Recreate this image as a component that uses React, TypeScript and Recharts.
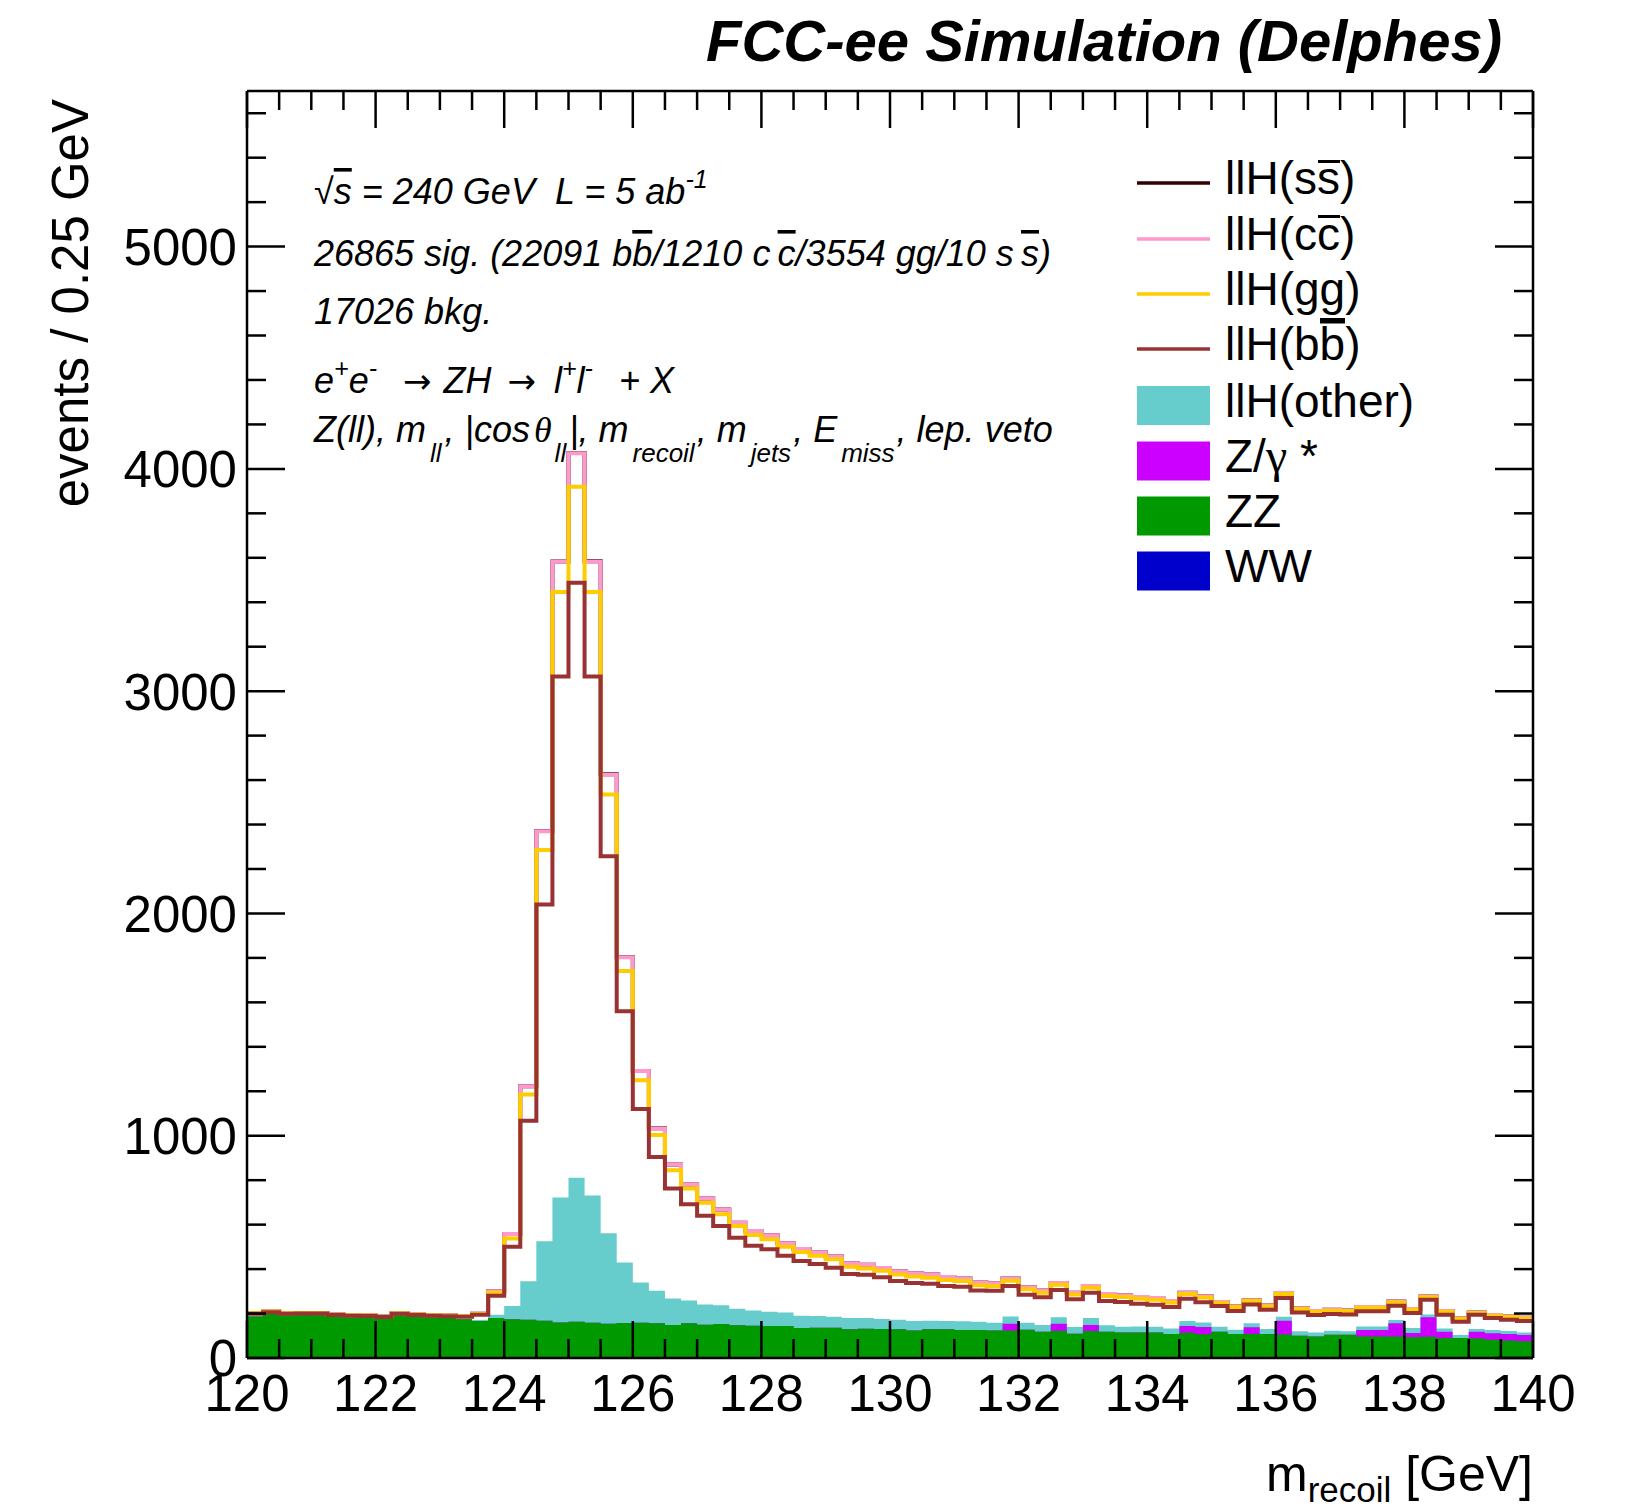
import React from "react";
import { ComposedChart, Area, Line, XAxis, YAxis } from "recharts";

const FONT = "'Liberation Sans', Arial, Helvetica, sans-serif";
const SERIF = "'Liberation Serif', 'DejaVu Serif', serif";

// low edge of every 0.25 GeV bin, plus the closing edge at 140
const binEdges = [
  120, 120.25, 120.5, 120.75, 121, 121.25, 121.5, 121.75, 122, 122.25,
  122.5, 122.75, 123, 123.25, 123.5, 123.75, 124, 124.25, 124.5, 124.75,
  125, 125.25, 125.5, 125.75, 126, 126.25, 126.5, 126.75, 127, 127.25,
  127.5, 127.75, 128, 128.25, 128.5, 128.75, 129, 129.25, 129.5, 129.75,
  130, 130.25, 130.5, 130.75, 131, 131.25, 131.5, 131.75, 132, 132.25,
  132.5, 132.75, 133, 133.25, 133.5, 133.75, 134, 134.25, 134.5, 134.75,
  135, 135.25, 135.5, 135.75, 136, 136.25, 136.5, 136.75, 137, 137.25,
  137.5, 137.75, 138, 138.25, 138.5, 138.75, 139, 139.25, 139.5, 139.75,
  140,
];

// events per bin, each process on its own (stacked below in this order)
const ww = [
  0, 0, 0, 0, 0, 0, 0, 0, 0, 0, 0, 0, 0, 0, 0, 0, 0, 0, 0, 0,
  0, 0, 0, 0, 0, 0, 0, 0, 0, 0, 0, 0, 0, 0, 0, 0, 0, 0, 0, 0,
  0, 0, 0, 0, 0, 0, 0, 0, 0, 0, 0, 0, 0, 0, 0, 0, 0, 0, 0, 0,
  0, 0, 0, 0, 0, 0, 0, 0, 0, 0, 0, 0, 0, 0, 0, 0, 0, 0, 0, 0,
];
const zz = [
  187, 198, 193, 193, 192, 187, 183, 183, 175, 192,
  187, 183, 180, 174, 166, 180, 174, 172, 168, 160,
  163, 159, 154, 157, 159, 156, 148, 156, 150, 153,
  147, 145, 144, 144, 135, 136, 136, 129, 132, 130,
  129, 124, 129, 129, 126, 126, 124, 124, 127, 118,
  123, 109, 121, 118, 115, 115, 115, 108, 114, 107,
  118, 108, 108, 108, 106, 100, 97, 105, 105, 97,
  97, 97, 93, 96, 90, 90, 88, 82, 79, 75,
];
const zgamma = [
  0, 0, 0, 0, 0, 0, 0, 0, 0, 0,
  0, 0, 0, 0, 0, 0, 0, 0, 0, 0,
  0, 0, 0, 0, 0, 0, 0, 0, 0, 0,
  0, 0, 0, 0, 0, 0, 0, 0, 0, 0,
  0, 0, 0, 0, 0, 0, 0, 30, 0, 0,
  31, 0, 27, 0, 0, 0, 0, 0, 30, 33,
  0, 0, 30, 0, 62, 0, 0, 0, 0, 29,
  29, 59, 20, 87, 28, 0, 30, 29, 29, 28,
];
const llhOther = [
  2, 2, 1, 2, 2, 1, 2, 1, 2, 2,
  1, 2, 2, 3, 5, 15, 60, 173, 357, 562,
  648, 572, 407, 273, 181, 147, 120, 103, 91, 84,
  75, 69, 64, 61, 55, 53, 50, 51, 48, 46,
  43, 42, 39, 37, 39, 37, 35, 33, 32, 30,
  29, 30, 32, 29, 26, 27, 26, 25, 22, 20,
  23, 19, 18, 22, 18, 20, 18, 18, 15, 16,
  16, 15, 22, 13, 15, 13, 12, 15, 13, 12,
];
const llhBB = [
  10, 6, 5, 5, 6, 5, 5, 5, 7, 5,
  6, 5, 6, 9, 24, 85, 266, 722, 1515, 2344,
  2677, 2335, 1696, 1130, 780, 601, 495, 433, 399, 357,
  319, 291, 281, 255, 246, 234, 220, 198, 195, 187,
  174, 171, 166, 158, 156, 141, 144, 137, 126, 125,
  123, 125, 114, 109, 111, 102, 99, 96, 101, 91,
  93, 84, 85, 87, 84, 85, 78, 75, 76, 68,
  68, 64, 67, 66, 62, 60, 65, 54, 51, 51,
];
const llhGG = [
  3, 3, 2, 2, 2, 2, 2, 2, 2, 2,
  2, 2, 2, 2, 3, 13, 38, 118, 245, 380,
  432, 380, 278, 181, 129, 99, 82, 71, 58, 53,
  53, 48, 45, 41, 41, 37, 38, 33, 28, 30,
  30, 30, 27, 27, 25, 23, 21, 24, 24, 21,
  24, 22, 22, 23, 22, 23, 22, 21, 21, 21,
  13, 18, 15, 15, 18, 15, 15, 15, 15, 16,
  16, 15, 15, 11, 13, 12, 7, 10, 12, 12,
];
const llhCC = [
  1, 1, 1, 1, 1, 1, 1, 1, 1, 1,
  1, 1, 1, 1, 1, 7, 20, 37, 85, 136,
  150, 136, 89, 62, 42, 30, 26, 18, 20, 21,
  15, 18, 18, 15, 13, 15, 13, 15, 17, 12,
  14, 14, 15, 13, 12, 13, 12, 10, 9, 10,
  7, 8, 8, 9, 8, 7, 8, 6, 6, 6,
  5, 4, 4, 4, 4, 4, 4, 4, 4, 3,
  3, 4, 3, 4, 3, 3, 3, 3, 3, 3,
];
const llhSS = [
  0, 0, 0, 0, 0, 0, 0, 0, 0, 0,
  0, 0, 0, 0, 0, 0, 0, 0.2, 0.5, 1.2,
  1.9, 2.2, 1.8, 1.1, 0.6, 0.3, 0, 0, 0, 0,
  0, 0, 0, 0, 0, 0, 0, 0, 0, 0,
  0, 0, 0, 0, 0, 0, 0, 0, 0, 0,
  0, 0, 0, 0, 0, 0, 0, 0, 0, 0,
  0, 0, 0, 0, 0, 0, 0, 0, 0, 0,
  0, 0, 0, 0, 0, 0, 0, 0, 0, 0,
];

const xTicks = [
  120, 120.5, 121, 121.5, 122, 122.5, 123, 123.5, 124, 124.5, 125, 125.5,
  126, 126.5, 127, 127.5, 128, 128.5, 129, 129.5, 130, 130.5, 131, 131.5,
  132, 132.5, 133, 133.5, 134, 134.5, 135, 135.5, 136, 136.5, 137, 137.5,
  138, 138.5, 139, 139.5, 140,
];
const xLabels = [120, 122, 124, 126, 128, 130, 132, 134, 136, 138, 140];
const yTicks = [
  0, 200, 400, 600, 800, 1000, 1200, 1400, 1600, 1800, 2000, 2200, 2400,
  2600, 2800, 3000, 3200, 3400, 3600, 3800, 4000, 4200, 4400, 4600, 4800,
  5000, 5200, 5400, 5600,
];
const yLabels = [0, 1000, 2000, 3000, 4000, 5000];

// stacked totals, one row per bin edge (last edge repeats the last bin)
const rows = binEdges.map((x, i) => {
  const k = Math.min(i, ww.length - 1);
  const w = ww[k];
  const z = w + zz[k];
  const zg = z + zgamma[k];
  const oth = zg + llhOther[k];
  const bb = oth + llhBB[k];
  const gg = bb + llhGG[k];
  const cc = gg + llhCC[k];
  const ss = cc + llhSS[k];
  return { x, ww: w, zz: z, zg, oth, bb, gg, cc, ss };
});

const AX = { stroke: "#000", strokeWidth: 2.5 };
const LABEL_SIZE = 51;

function BottomTick(p: any) {
  const v = p.payload.value;
  const major = xLabels.includes(v);
  return (
    <g>
      <line x1={p.x} x2={p.x} y1={p.y} y2={p.y - (major ? 37 : 19)} {...AX} />
      {major && (
        <text x={p.x} y={p.y + 53} textAnchor="middle" fontFamily={FONT} fontSize={LABEL_SIZE} fill="#000">
          {v}
        </text>
      )}
    </g>
  );
}

function TopTick(p: any) {
  const major = xLabels.includes(p.payload.value);
  return <line x1={p.x} x2={p.x} y1={p.y} y2={p.y + (major ? 37 : 19)} {...AX} />;
}

function LeftTick(p: any) {
  const v = p.payload.value;
  const major = yLabels.includes(v);
  return (
    <g>
      <line x1={p.x} x2={p.x + (major ? 38 : 19)} y1={p.y} y2={p.y} {...AX} />
      {major && (
        <text x={p.x - 10} y={p.y} dy="0.36em" textAnchor="end" fontFamily={FONT} fontSize={LABEL_SIZE} fill="#000">
          {v}
        </text>
      )}
    </g>
  );
}

function RightTick(p: any) {
  const major = yLabels.includes(p.payload.value);
  return <line x1={p.x} x2={p.x - (major ? 38 : 19)} y1={p.y} y2={p.y} {...AX} />;
}

const legendLines = [
  { label: "ss", color: "#330000", y: 183 },
  { label: "cc", color: "#ff99cc", y: 239 },
  { label: "gg", color: "#ffcc00", y: 294 },
  { label: "bb", color: "#993333", y: 349 },
];
const legendBoxes = [
  { label: "llH(other)", color: "#66cccc", y: 405.5 },
  { label: "Z/γ *", color: "#cc00ff", y: 461 },
  { label: "ZZ", color: "#009900", y: 516 },
  { label: "WW", color: "#0000cc", y: 571 },
];

function Overlay() {
  const it = { fontFamily: FONT, fontStyle: "italic" as const, fontSize: 36, fill: "#000" };
  const sub = 26;
  const sup = 25;
  const arrow = { fontFamily: "'DejaVu Sans', sans-serif", fontStyle: "normal" as const, fontSize: 34 };
  return (
    <svg
      width={1639}
      height={1508}
      style={{ position: "absolute", left: 0, top: 0, pointerEvents: "none" }}
    >
      <text x={1502} y={61} textAnchor="end" fontFamily={FONT} fontWeight="bold" fontStyle="italic" fontSize={58}>
        FCC-ee Simulation (Delphes)
      </text>

      <text
        x={88}
        y={99}
        transform="rotate(-90 88 99)"
        textAnchor="end"
        fontFamily={FONT}
        fontSize={51}
      >
        events / 0.25 GeV
      </text>

      <text x={1533} y={1491} textAnchor="end" fontFamily={FONT} fontSize={50}>
        m
        <tspan dy={11} fontSize={35}>recoil</tspan>
        <tspan dy={-11}> [GeV]</tspan>
      </text>

      {/* annotation block */}
      <text x={314} y={204} {...it}>
        √<tspan textDecoration="overline">s</tspan> = 240 GeV{"\u00a0\u00a0"}L = 5 ab
        <tspan dy={-16} fontSize={sup}>-1</tspan>
      </text>
      <text x={314} y={266} {...it}>
        26865 sig. (22091 b<tspan textDecoration="overline">b</tspan>/1210 c{"\u2009"}
        <tspan textDecoration="overline">c</tspan>/3554 gg/10 s{"\u2009"}
        <tspan textDecoration="overline">s</tspan>)
      </text>
      <text x={314} y={324} {...it}>
        17026 bkg.
      </text>
      <text x={314} y={393} {...it}>
        e<tspan dy={-16} fontSize={sup}>+</tspan>
        <tspan dy={16}>e</tspan>
        <tspan dy={-16} fontSize={sup}>-</tspan>
        <tspan dy={16} dx={26} {...arrow}>→</tspan>
        <tspan dx={12}>ZH</tspan>
        <tspan dx={16} {...arrow}>→</tspan>
        <tspan dx={18}>l</tspan>
        <tspan dy={-16} fontSize={sup}>+</tspan>
        <tspan dy={16}>l</tspan>
        <tspan dy={-16} fontSize={sup}>-</tspan>
        <tspan dy={16} dx={26}>+ X</tspan>
      </text>
      <text x={314} y={442} {...it}>
        Z(ll), m<tspan dy={20} dx={4} fontSize={sub}>ll</tspan>
        <tspan dy={-20} dx={3}>, |cos</tspan>
        <tspan dx={4} fontFamily={SERIF}>θ</tspan>
        <tspan dy={20} dx={3} fontSize={sub}>ll</tspan>
        <tspan dy={-20} dx={3}>|, m</tspan>
        <tspan dy={20} dx={4} fontSize={sub}>recoil</tspan>
        <tspan dy={-20} dx={2}>, m</tspan>
        <tspan dy={20} dx={4} fontSize={sub}>jets</tspan>
        <tspan dy={-20} dx={2}>, E</tspan>
        <tspan dy={20} dx={4} fontSize={sub}>miss</tspan>
        <tspan dy={-20} dx={2}>, lep. veto</tspan>
      </text>

      {/* legend */}
      {legendLines.map((e) => (
        <g key={e.label}>
          <line x1={1137} x2={1210} y1={e.y} y2={e.y} stroke={e.color} strokeWidth={3.5} />
          <text x={1225} y={e.y + 11} fontFamily={FONT} fontSize={46}>
            llH({e.label})
          </text>
        </g>
      ))}
      {/* bars over / under the antiquark letters */}
      <line x1={1318} x2={1340} y1={161.5} y2={161.5} stroke="#000" strokeWidth={3} />
      <line x1={1318} x2={1340} y1={216.5} y2={216.5} stroke="#000" strokeWidth={3} />
      <line x1={1320} x2={1345} y1={319.5} y2={319.5} stroke="#000" strokeWidth={3} />
      <line x1={1320} x2={1345} y1={322} y2={322} stroke="#000" strokeWidth={3} />
      {legendBoxes.map((e) => (
        <g key={e.label}>
          <rect x={1137} y={e.y - 19.5} width={73} height={39} fill={e.color} />
          <text x={1225} y={e.y + 11} fontFamily={FONT} fontSize={46}>
            {e.label === "Z/γ *" ? (
              <>
                Z/<tspan fontFamily={SERIF} fontSize={48}>γ</tspan> *
              </>
            ) : (
              e.label
            )}
          </text>
        </g>
      ))}
    </svg>
  );
}

export default function App() {
  return (
    <div style={{ position: "absolute", left: 0, top: 0, width: 1639, height: 1508, background: "#fff" }}>
      <ComposedChart
        width={1639}
        height={1508}
        data={rows}
        margin={{ top: 90, right: 105, bottom: 149, left: 246 }}
      >
        <Area type="stepAfter" dataKey="oth" fill="#66cccc" fillOpacity={1} stroke="none" isAnimationActive={false} />
        <Area type="stepAfter" dataKey="zg" fill="#cc00ff" fillOpacity={1} stroke="none" isAnimationActive={false} />
        <Area type="stepAfter" dataKey="zz" fill="#009900" fillOpacity={1} stroke="none" isAnimationActive={false} />
        <Area type="stepAfter" dataKey="ww" fill="#0000cc" fillOpacity={1} stroke="none" isAnimationActive={false} />

        <Line type="stepAfter" dataKey="ss" xAxisId="top" yAxisId="right" stroke="#330000" strokeWidth={4} dot={false} isAnimationActive={false} />
        <Line type="stepAfter" dataKey="cc" stroke="#ff99cc" strokeWidth={4} dot={false} isAnimationActive={false} />
        <Line type="stepAfter" dataKey="gg" stroke="#ffcc00" strokeWidth={4} dot={false} isAnimationActive={false} />
        <Line type="stepAfter" dataKey="bb" stroke="#993333" strokeWidth={4} dot={false} isAnimationActive={false} />

        <XAxis
          dataKey="x"
          type="number"
          domain={[120, 140]}
          ticks={xTicks}
          interval={0}
          height={1}
          tickSize={0}
          tickMargin={0}
          tickLine={false}
          axisLine={AX}
          tick={(p: any) => <BottomTick {...p} />}
        />
        <XAxis
          xAxisId="top"
          orientation="top"
          dataKey="x"
          type="number"
          domain={[120, 140]}
          ticks={xTicks}
          interval={0}
          height={1}
          tickSize={0}
          tickMargin={0}
          tickLine={false}
          axisLine={AX}
          tick={(p: any) => <TopTick {...p} />}
        />
        <YAxis
          type="number"
          domain={[0, 5700]}
          ticks={yTicks}
          interval={0}
          width={1}
          tickSize={0}
          tickMargin={0}
          tickLine={false}
          axisLine={AX}
          tick={(p: any) => <LeftTick {...p} />}
        />
        <YAxis
          yAxisId="right"
          orientation="right"
          type="number"
          domain={[0, 5700]}
          ticks={yTicks}
          interval={0}
          width={1}
          tickSize={0}
          tickMargin={0}
          tickLine={false}
          axisLine={AX}
          tick={(p: any) => <RightTick {...p} />}
        />
      </ComposedChart>
      <Overlay />
    </div>
  );
}
